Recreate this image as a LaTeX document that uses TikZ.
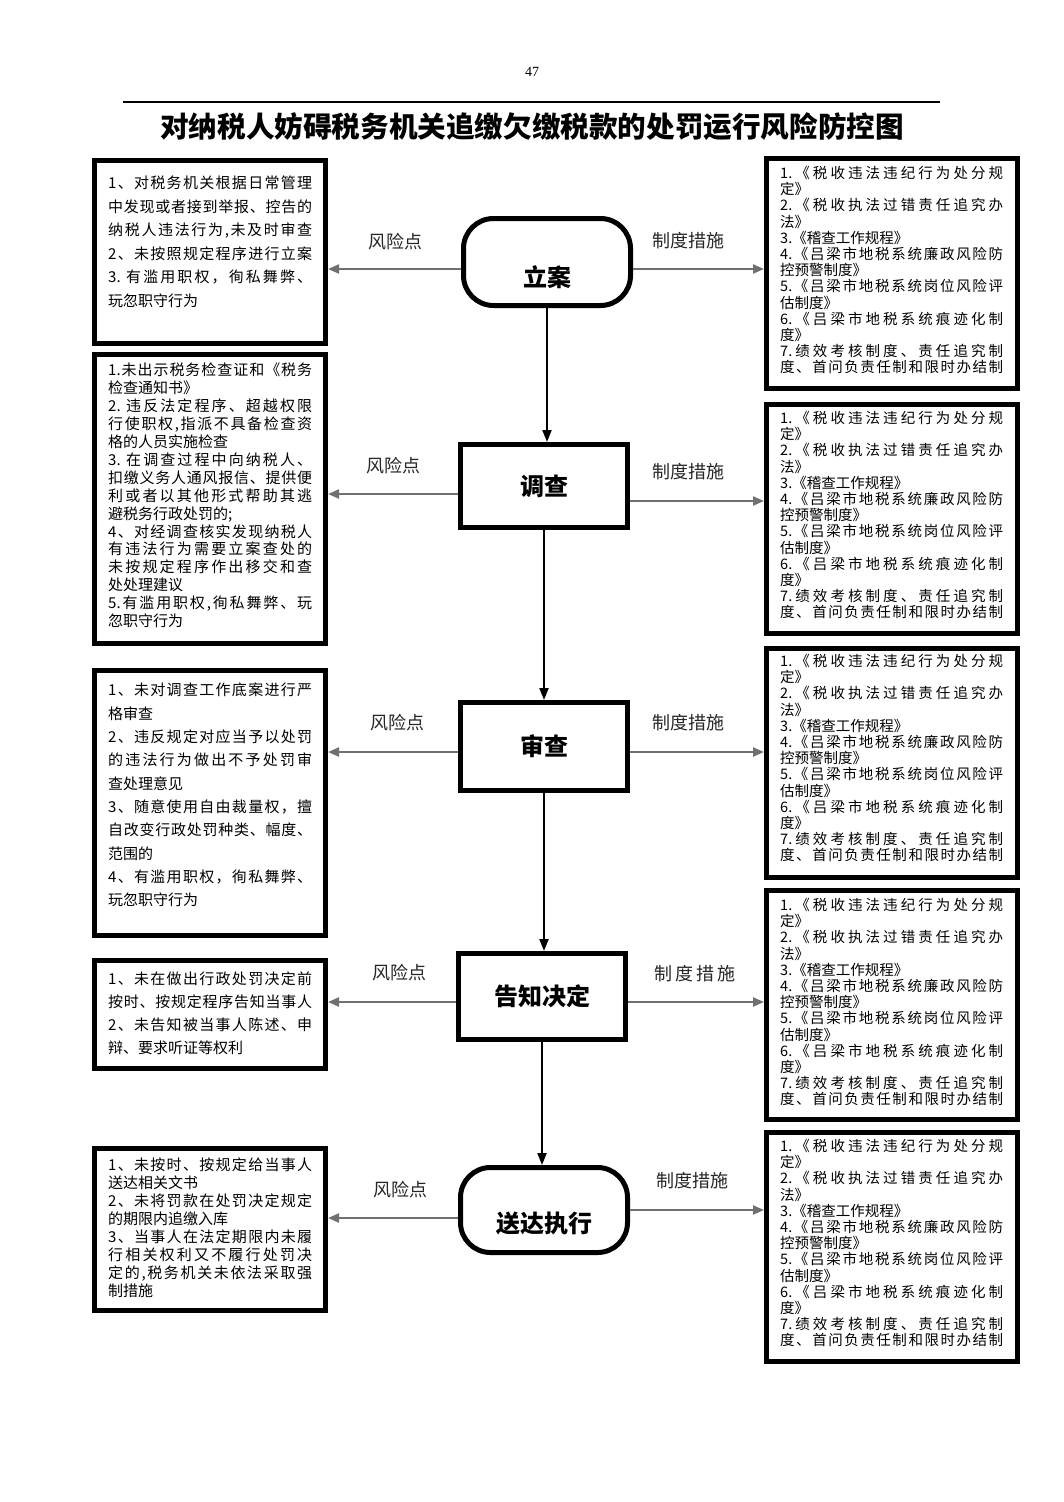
\documentclass[tikz,border=0pt]{standalone}
\usepackage{fontspec}
\setmainfont{Liberation Serif}
\newfontfamily\cjk{Noto Sans CJK SC}
\usetikzlibrary{arrows.meta}
\definecolor{arrgray}{HTML}{707070}
\makeatletter
\def\jl@stop{}
\def\jl@endmark{\jl@stop}
\newcommand\jl[2]{\hbox to #1{\jl@first#2\jl@stop}}
\def\jl@first#1{#1\jl@rest}
\def\jl@rest#1{\def\jl@tmp{#1}\ifx\jl@tmp\jl@endmark\else\hfil#1\expandafter\jl@rest\fi}
\makeatother
\newcommand\zdcs{%
\jl{223pt}{{1.}《税收违法违纪行为处分规}\\
定》\\
\jl{223pt}{{2.}《税收执法过错责任追究办}\\
法》\\
3.《稽查工作规程》\\
\jl{223pt}{{4.}《吕梁市地税系统廉政风险防}\\
控预警制度》\\
\jl{223pt}{{5.}《吕梁市地税系统岗位风险评}\\
估制度》\\
\jl{223pt}{{6.}《吕梁市地税系统痕迹化制}\\
度》\\
\jl{223pt}{{7.}绩效考核制度、责任追究制}\\
\jl{223pt}{度、首问负责任制和限时办结制}}
\begin{document}
\begin{tikzpicture}[x=1pt,y=-1pt,
  stagebox/.style={draw, line width=5pt, minimum width=167pt, font=\cjk\bfseries\fontsize{24}{28}\selectfont},
  stadium/.style={stagebox, rounded corners=30pt},
  stagelab/.style={font=\cjk\bfseries\fontsize{24}{28}\selectfont},
  lbox/.style={draw, line width=5pt, minimum width=231pt},
  rbox/.style={draw, line width=5pt, minimum width=251pt, minimum height=229pt},
  ltext/.style={anchor=north west, inner sep=0pt, align=left},
  rtext/.style={anchor=north west, inner sep=0pt, align=left, font=\cjk\fontsize{14.5}{16.2}\selectfont},
  lab/.style={font=\cjk\fontsize{18}{20}\selectfont, text=black!85},
  garrow/.style={draw=arrgray, line width=2.2pt, -{Triangle[length=11pt,width=9pt]}},
  varrow/.style={draw=black, line width=2pt, -{Triangle[length=12pt,width=9pt]}}
]
\useasboundingbox[fill=white] (0,0) rectangle (1063,1502);

% header
\node[font=\fontsize{14}{16}\selectfont] (pg) at (532,72) {47};
\draw[line width=2pt] (123,102) -- (940,102);
\node[font=\cjk\bfseries\fontsize{28.6}{32}\selectfont] (title) at (532,127) {对纳税人妨碍税务机关追缴欠缴税款的处罚运行风险防控图};

% stages
\node[stadium, minimum height=87pt, label={[stagelab,yshift=-15pt]center:立案}] (LA) at (547,262) {};
\node[stagebox, minimum height=83pt] (DC) at (544,486) {调查};
\node[stagebox, minimum height=88pt] (SC) at (544,746.5) {审查};
\node[stagebox, minimum height=86pt] (GZ) at (542,996.5) {告知决定};
\node[stadium, minimum height=85pt, label={[stagelab,yshift=-13pt]center:送达执行}] (SD) at (544,1210) {};

% left boxes
\node[lbox, minimum height=183pt] (L1) at (210,252) {};
\node[lbox, minimum height=289pt] (L2) at (210,499) {};
\node[lbox, minimum height=265pt] (L3) at (210,803) {};
\node[lbox, minimum height=108pt] (L4) at (210,1014.5) {};
\node[lbox, minimum height=162pt] (L5) at (210,1229.5) {};

% right boxes
\node[rbox, minimum height=230pt] (R1) at (892,273.5) {};
\node[rbox] (R2) at (892,519) {};
\node[rbox] (R3) at (892,763) {};
\node[rbox] (R4) at (892,1005) {};
\node[rbox] (R5) at (892,1247) {};

% left texts
\node[ltext, font=\cjk\fontsize{15}{23.5}\selectfont] (L1t) at (108,176) {%
\jl{204pt}{1、对税务机关根据日常管理}\\
\jl{204pt}{中发现或者接到举报、控告的}\\
\jl{204pt}{纳税人违法行为,未及时审查}\\
\jl{204pt}{2、未按照规定程序进行立案}\\
\jl{204pt}{{3.~}有滥用职权，徇私舞弊、}\\
玩忽职守行为};

\node[ltext, font=\cjk\fontsize{15}{17.9}\selectfont] (L2t) at (108,363) {%
\jl{204pt}{{1.}未出示税务检查证和《税务}\\
检查通知书》\\
\jl{204pt}{{2.~}违反法定程序、超越权限}\\
\jl{204pt}{行使职权,指派不具备检查资}\\
格的人员实施检查\\
\jl{204pt}{{3.~}在调查过程中向纳税人、}\\
\jl{204pt}{扣缴义务人通风报信、提供便}\\
\jl{204pt}{利或者以其他形式帮助其逃}\\
避税务行政处罚的;\\
\jl{204pt}{4、对经调查核实发现纳税人}\\
\jl{204pt}{有违法行为需要立案查处的}\\
\jl{204pt}{未按规定程序作出移交和查}\\
处处理建议\\
\jl{204pt}{{5.}有滥用职权,徇私舞弊、玩}\\
忽职守行为};

\node[ltext, font=\cjk\fontsize{15}{23.3}\selectfont] (L3t) at (108,683) {%
\jl{204pt}{1、未对调查工作底案进行严}\\
格审查\\
\jl{204pt}{2、违反规定对应当予以处罚}\\
\jl{204pt}{的违法行为做出不予处罚审}\\
查处理意见\\
\jl{204pt}{3、随意使用自由裁量权，擅}\\
\jl{204pt}{自改变行政处罚种类、幅度、}\\
范围的\\
\jl{204pt}{4、有滥用职权，徇私舞弊、}\\
玩忽职守行为};

\node[ltext, font=\cjk\fontsize{15}{23}\selectfont] (L4t) at (108,972) {%
\jl{204pt}{1、未在做出行政处罚决定前}\\
\jl{204pt}{按时、按规定程序告知当事人}\\
\jl{204pt}{2、未告知被当事人陈述、申}\\
辩、要求听证等权利};

\node[ltext, font=\cjk\fontsize{15}{18}\selectfont] (L5t) at (108,1158) {%
\jl{204pt}{1、未按时、按规定给当事人}\\
送达相关文书\\
\jl{204pt}{2、未将罚款在处罚决定规定}\\
的期限内追缴入库\\
\jl{204pt}{3、当事人在法定期限内未履}\\
\jl{204pt}{行相关权利又不履行处罚决}\\
\jl{204pt}{定的,税务机关未依法采取强}\\
制措施};

% right texts
\node[rtext] (R1t) at (780,166) {\zdcs};
\node[rtext] (R2t) at (780,411) {\zdcs};
\node[rtext] (R3t) at (780,654) {\zdcs};
\node[rtext] (R4t) at (780,898) {\zdcs};
\node[rtext] (R5t) at (780,1139) {\zdcs};

% vertical arrows
\draw[varrow] (LA.south) -- (LA.south |- DC.north);
\draw[varrow] (DC.south) -- (DC.south |- SC.north);
\draw[varrow] (SC.south) -- (SC.south |- GZ.north);
\draw[varrow] (GZ.south) -- (GZ.south |- SD.north);

% horizontal levels
\coordinate (ya) at (0,269);
\coordinate (yb) at (0,494);
\coordinate (yc) at (0,501);
\coordinate (yd) at (0,752);
\coordinate (ye) at (0,1002);
\coordinate (yf) at (0,1218);
\coordinate (yg) at (0,1210);

\draw[garrow] (LA.west |- ya) -- (L1.east |- ya);
\draw[garrow] (LA.east |- ya) -- (R1.west |- ya);
\draw[garrow] (DC.west |- yb) -- (L2.east |- yb);
\draw[garrow] (DC.east |- yc) -- (R2.west |- yc);
\draw[garrow] (SC.west |- yd) -- (L3.east |- yd);
\draw[garrow] (SC.east |- yd) -- (R3.west |- yd);
\draw[garrow] (GZ.west |- ye) -- (L4.east |- ye);
\draw[garrow] (GZ.east |- ye) -- (R4.west |- ye);
\draw[garrow] (SD.west |- yf) -- (L5.east |- yf);
\draw[garrow] (SD.east |- yg) -- (R5.west |- yg);

% labels
\node[lab] (k1) at (395,242) {风险点};
\node[lab] (z1) at (688,241) {制度措施};
\node[lab] (k2) at (393,466) {风险点};
\node[lab] (z2) at (688,472) {制度措施};
\node[lab] (k3) at (397,723) {风险点};
\node[lab] (z3) at (688,723) {制度措施};
\node[lab] (k4) at (399,973) {风险点};
\node[lab] (z4) at (695,974) {制\hspace{3pt}度\hspace{3pt}措\hspace{3pt}施};
\node[lab] (k5) at (400,1190) {风险点};
\node[lab] (z5) at (692,1181) {制度措施};
\end{tikzpicture}
\end{document}
